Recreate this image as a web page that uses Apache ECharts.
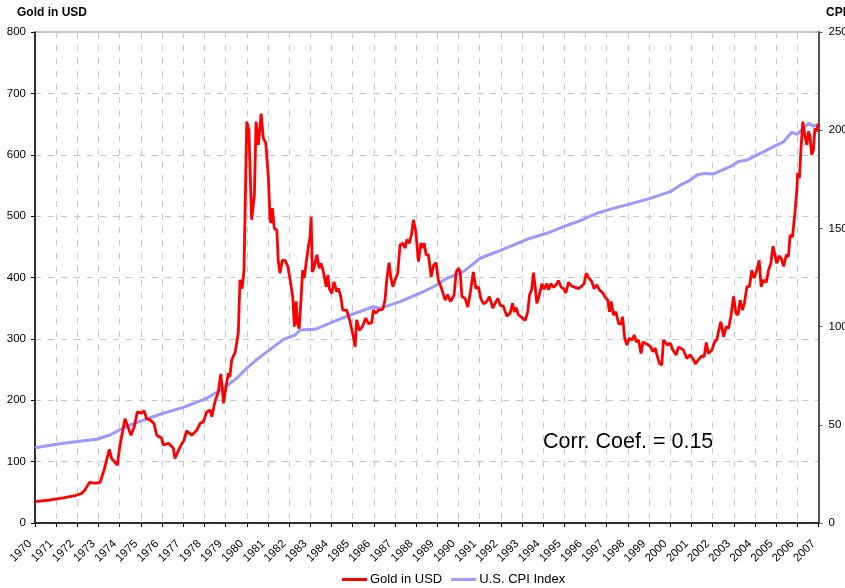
<!DOCTYPE html>
<html>
<head>
<meta charset="utf-8">
<script src="https://cdn.jsdelivr.net/npm/echarts@6/dist/echarts.min.js"></script>
<style>
  html, body { margin: 0; padding: 0; background: #fff; }
  #chart { width: 845px; height: 588px; }
</style>
</head>
<body>
<div id="chart"></div>
<script>
// gold price (USD/oz)
const goldYears = [
  1970.00, 1970.71, 1971.34, 1971.89, 1972.20, 1972.36, 1972.57, 1972.83, 1973.07, 1973.26,
  1973.51, 1973.62, 1973.89, 1974.00, 1974.25, 1974.33, 1974.53, 1974.69, 1974.83, 1975.04,
  1975.15, 1975.27, 1975.43, 1975.62, 1975.75, 1975.98, 1976.06, 1976.30, 1976.53, 1976.61,
  1976.85, 1977.04, 1977.16, 1977.40, 1977.64, 1977.79, 1977.95, 1978.11, 1978.27, 1978.35,
  1978.50, 1978.66, 1978.77, 1978.86, 1978.90, 1979.02, 1979.13, 1979.20, 1979.29, 1979.45,
  1979.60, 1979.68, 1979.78, 1979.87, 1980.00, 1980.10, 1980.23, 1980.36, 1980.44, 1980.55,
  1980.68, 1980.78, 1980.90, 1981.02, 1981.10, 1981.15, 1981.21, 1981.30, 1981.42, 1981.49,
  1981.57, 1981.68, 1981.81, 1981.94, 1982.05, 1982.17, 1982.25, 1982.33, 1982.39, 1982.48,
  1982.56, 1982.64, 1982.72, 1982.80, 1982.91, 1982.99, 1983.04, 1983.10, 1983.19, 1983.31,
  1983.42, 1983.51, 1983.62, 1983.75, 1983.83, 1983.90, 1984.02, 1984.12, 1984.25, 1984.33,
  1984.44, 1984.53, 1984.72, 1984.88, 1985.00, 1985.12, 1985.19, 1985.32, 1985.46, 1985.62,
  1985.74, 1985.90, 1985.98, 1986.09, 1986.22, 1986.42, 1986.53, 1986.61, 1986.72, 1986.80,
  1986.90, 1987.00, 1987.13, 1987.24, 1987.37, 1987.48, 1987.56, 1987.68, 1987.79, 1987.87,
  1987.98, 1988.11, 1988.22, 1988.32, 1988.38, 1988.47, 1988.58, 1988.71, 1988.82, 1988.94,
  1989.05, 1989.20, 1989.37, 1989.48, 1989.62, 1989.79, 1989.89, 1990.00, 1990.08, 1990.16,
  1990.31, 1990.44, 1990.55, 1990.70, 1990.82, 1990.94, 1991.05, 1991.18, 1991.34, 1991.46,
  1991.62, 1991.73, 1991.86, 1991.97, 1992.12, 1992.28, 1992.44, 1992.55, 1992.64, 1992.72,
  1992.83, 1992.99, 1993.15, 1993.27, 1993.35, 1993.46, 1993.54, 1993.62, 1993.70, 1993.81,
  1993.94, 1994.04, 1994.17, 1994.25, 1994.36, 1994.49, 1994.61, 1994.72, 1994.85, 1994.96,
  1995.07, 1995.19, 1995.35, 1995.51, 1995.66, 1995.82, 1995.93, 1996.03, 1996.14, 1996.30,
  1996.40, 1996.53, 1996.65, 1996.81, 1996.92, 1997.05, 1997.13, 1997.21, 1997.32, 1997.43,
  1997.56, 1997.67, 1997.75, 1997.84, 1997.95, 1998.06, 1998.19, 1998.30, 1998.39, 1998.50,
  1998.62, 1998.71, 1998.81, 1998.97, 1999.08, 1999.18, 1999.29, 1999.37, 1999.49, 1999.60,
  1999.68, 1999.76, 1999.87, 2000.00, 2000.12, 2000.28, 2000.39, 2000.47, 2000.62, 2000.78,
  2000.94, 2001.10, 2001.18, 2001.33, 2001.49, 2001.60, 2001.70, 2001.80, 2001.97, 2002.09,
  2002.20, 2002.28, 2002.39, 2002.52, 2002.64, 2002.75, 2002.86, 2002.99, 2003.10, 2003.20,
  2003.30, 2003.41, 2003.50, 2003.62, 2003.74, 2003.85, 2003.96, 2004.09, 2004.20, 2004.29,
  2004.40, 2004.53, 2004.64, 2004.75, 2004.85, 2004.96, 2005.03, 2005.14, 2005.24, 2005.35,
  2005.48, 2005.58, 2005.66, 2005.77, 2005.90, 2005.98, 2006.01, 2006.10, 2006.17, 2006.26,
  2006.37, 2006.45, 2006.53, 2006.60, 2006.68, 2006.76, 2006.83, 2006.91, 2006.99
];
const goldPrices = [
  35, 37.5, 41, 44.5, 48, 54, 66, 65, 66, 86,
  120, 105, 94.5, 124, 170, 173, 143, 157, 181, 179,
  183, 170, 168, 162, 143, 138, 127, 130, 122, 105,
  124, 135, 150, 143, 151, 162, 165, 181, 184, 173,
  198, 214, 243, 214, 195, 222, 244, 238, 266, 278,
  309, 396, 382, 412, 654, 640, 494, 534, 654, 616,
  667, 627, 619, 564, 494, 489, 513, 480, 477, 426,
  407, 428, 428, 418, 396, 369, 320, 361, 325, 317,
  363, 412, 399, 423, 450, 466, 499, 409, 418, 437,
  415, 423, 409, 385, 404, 382, 374, 393, 377, 382,
  369, 347, 347, 328, 309, 287, 331, 314, 320, 334,
  325, 326, 347, 342, 347, 348, 363, 396, 424, 401,
  385, 396, 407, 453, 456, 448, 462, 456, 472, 494,
  475, 426, 456, 448, 456, 437, 437, 401, 420, 424,
  395, 382, 363, 372, 361, 371, 409, 415, 409, 369,
  366, 352, 374, 409, 382, 385, 366, 357, 361, 369,
  350, 358, 366, 355, 353, 337, 342, 358, 344, 351,
  339, 335, 330, 344, 371, 381, 408, 385, 358, 371,
  390, 381, 390, 380, 390, 384, 388, 395, 384, 382,
  375, 392, 386, 384, 382, 386, 390, 407, 400, 393,
  382, 388, 380, 375, 368, 363, 344, 361, 339, 344,
  325, 324, 336, 303, 290, 301, 298, 306, 295, 298,
  276, 295, 293, 290, 287, 279, 285, 274, 260, 257,
  298, 301, 290, 293, 282, 274, 287, 290, 282, 268,
  274, 266, 259, 266, 272, 271, 294, 276, 282, 295,
  299, 312, 328, 303, 320, 317, 336, 369, 342, 339,
  363, 347, 358, 385, 385, 412, 399, 412, 428, 385,
  396, 392, 412, 423, 451, 434, 423, 435, 431, 418,
  437, 434, 469, 466, 510, 543, 570, 562, 608, 654,
  629, 616, 638, 629, 600, 608, 643, 638, 651
];

// U.S. CPI index, right axis
const cpiYears = [
  1970.00, 1971.34, 1972.91, 1973.54, 1974.00, 1974.49, 1975.12, 1976.06, 1977.00, 1978.11,
  1978.90, 1979.53, 1980.00, 1980.50, 1981.00, 1981.73, 1982.28, 1982.52, 1983.23, 1984.09,
  1984.88, 1985.98, 1986.30, 1987.24, 1988.19, 1988.82, 1989.45, 1990.23, 1991.02, 1991.81,
  1992.59, 1993.38, 1994.17, 1994.96, 1995.74, 1996.53, 1997.32, 1998.11, 1999.05, 2000.00,
  2000.47, 2000.94, 2001.26, 2001.60, 2002.04, 2002.83, 2003.22, 2003.62, 2004.40, 2004.87,
  2005.35, 2005.74, 2005.98, 2006.53, 2006.76, 2006.99
];
const cpiValues = [
  38.3, 40.6, 42.6, 44.8, 47.4, 49.9, 52.4, 55.9, 58.9, 63.5,
  68.6, 73.7, 78.8, 83.5, 87.5, 93.5, 95.7, 98.3, 98.6, 102.5,
  105.9, 110.1, 109.3, 112.7, 117.0, 120.3, 124.6, 128.0, 134.8, 138.1,
  141.5, 145.0, 147.5, 150.9, 153.9, 157.7, 160.2, 162.5, 165.3, 168.7,
  172.0, 174.6, 177.2, 178.0, 177.7, 181.4, 184.0, 184.8, 189.0, 191.6,
  194.1, 198.9, 197.9, 203.5, 202.1, 202.6
];

const seriesNames = ['Gold in USD', 'U.S. CPI Index'];

const font = '"Liberation Sans", Arial, sans-serif';
const gridDash = { color: '#c8c8c8', width: 1, type: [6, 7] };

const chart = echarts.init(document.getElementById('chart'));

chart.setOption({
  animation: false,
  textStyle: { fontFamily: font },
  grid: {
    left: 35, right: 26.5, top: 32, bottom: 65,
    outerBoundsMode: 'none',
    containLabel: false,
    show: true, borderColor: '#8c8c8c', borderWidth: 1
  },
  legend: {
    data: seriesNames,
    top: 568,
    left: 337,
    icon: 'rect',
    itemWidth: 25,
    itemHeight: 3,
    itemGap: 9,
    textStyle: { fontFamily: font, fontSize: 13, color: '#000', padding: [0, 0, 0, -2] }
  },
  xAxis: {
    type: 'value',
    min: 1970,
    max: 2007,
    interval: 1,
    axisLine: { lineStyle: { color: '#000', width: 1.5 } },
    axisTick: { length: 4, lineStyle: { color: '#000' } },
    axisLabel: {
      rotate: 45, margin: 14, fontSize: 11.5, color: '#000', fontFamily: font,
      padding: [0, 7, 0, 0],
      formatter: v => String(v)
    },
    splitLine: { show: true, lineStyle: gridDash }
  },
  yAxis: [
    {
      type: 'value',
      min: 0, max: 800, interval: 100,
      axisLine: { show: true, lineStyle: { color: '#000', width: 1.5 } },
      axisTick: { show: true, length: 4, lineStyle: { color: '#000' } },
      axisLabel: { margin: 9, fontSize: 11.5, color: '#000', fontFamily: font },
      splitLine: { show: true, lineStyle: gridDash }
    },
    {
      type: 'value',
      position: 'right',
      min: 0, max: 250, interval: 50,
      axisLine: { show: true, lineStyle: { color: '#555', width: 2 } },
      axisTick: { show: true, length: 4, lineStyle: { color: '#555' } },
      axisLabel: { margin: 10, fontSize: 11.5, color: '#000', fontFamily: font },
      splitLine: { show: false }
    }
  ],
  graphic: [
    {
      type: 'text', left: 17, top: 7,
      style: { text: 'Gold in USD', font: 'bold 12px ' + font, fill: '#000' }
    },
    {
      type: 'text', left: 826, top: 7,
      style: { text: 'CPI', font: 'bold 12px ' + font, fill: '#000' }
    },
    {
      type: 'text', left: 543, top: 431,
      style: { text: 'Corr. Coef. = 0.15', font: '21.5px ' + font, fill: '#000' }
    }
  ],
  series: [
    {
      name: seriesNames[0],
      type: 'line',
      yAxisIndex: 0,
      z: 3,
      symbol: 'none',
      data: goldYears.map((y, i) => [y, goldPrices[i]]),
      itemStyle: { color: '#ff0000' },
      lineStyle: { color: '#ff0000', width: 2.8 }
    },
    {
      name: seriesNames[1],
      type: 'line',
      yAxisIndex: 1,
      z: 2,
      symbol: 'none',
      data: cpiYears.map((y, i) => [y, cpiValues[i]]),
      itemStyle: { color: '#9999ff' },
      lineStyle: { color: '#9999ff', width: 3 }
    }
  ]
});
</script>
</body>
</html>
